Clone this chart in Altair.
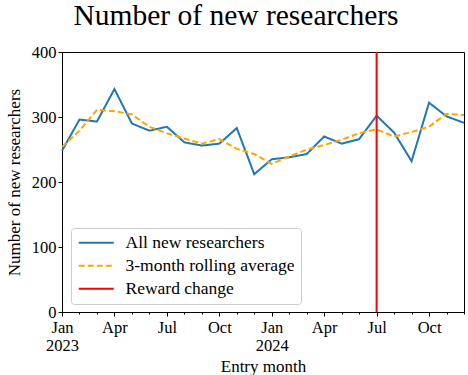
import altair as alt
import pandas as pd

# Month index 0 = Jan 2023 ... 23 = Dec 2024
month_index = list(range(24))
all_new = [248, 296, 293, 343, 290, 279, 285, 261, 256, 259, 283, 212,
           235, 238, 243, 270, 259, 266, 302, 276, 232, 322, 301, 291]
rolling = [254, 279, 311, 309, 304, 285, 275, 267, 259, 266, 251, 243,
           228, 239, 250, 257, 265, 275, 281, 270, 277, 285, 305, 303]
reward_change_month = [18]
series_names = ["All new researchers", "3-month rolling average", "Reward change"]
series_colors = ["#1f77b4", "orange", "red"]
# tick labels for each month index ('' = minor tick without label)
tick_labels = [["Jan", "2023"], "", "", "Apr", "", "", "Jul", "", "", "Oct", "", "",
               ["Jan", "2024"], "", "", "Apr", "", "", "Jul", "", "", "Oct", "", ""]

df_lines = pd.DataFrame({
    "m": month_index * 2,
    "value": all_new + rolling,
    "series": [series_names[0]] * 24 + [series_names[1]] * 24,
})
df_rule = pd.DataFrame({"m": reward_change_month, "series": [series_names[2]]})

FONT = "Liberation Serif"


def js(v):
    if isinstance(v, list):
        return "[" + ",".join(js(x) for x in v) + "]"
    return "'" + v + "'"


label_expr = f"{js(tick_labels)}[round(datum.value)]"

x_enc = alt.X(
    "m:Q",
    scale=alt.Scale(domain=[0, 23], nice=False, zero=False),
    axis=alt.Axis(
        values=month_index,
        labelExpr=label_expr,
        title="Entry month",
        tickSize={"condition": {"test": "round(datum.value) % 3 === 0", "value": 4}, "value": 2},
        labelPadding=3,
        labelFlush=False,
        labelOverlap=False,
        labelLineHeight=18,
        titlePadding=5,
    ),
)
y_enc = alt.Y(
    "value:Q",
    scale=alt.Scale(domain=[0, 400], nice=False),
    axis=alt.Axis(values=[0, 100, 200, 300, 400], title="Number of new researchers",
                  tickSize=4, labelPadding=2, titlePadding=8),
)
color_enc = alt.Color(
    "series:N",
    scale=alt.Scale(domain=series_names, range=series_colors),
    legend=alt.Legend(title=None),
)
dash_enc = alt.StrokeDash(
    "series:N",
    scale=alt.Scale(domain=series_names, range=[[1, 0], [6, 3], [1, 0]]),
    legend=alt.Legend(title=None),
)

lines = alt.Chart(df_lines).mark_line(strokeWidth=2).encode(
    x=x_enc, y=y_enc, color=color_enc, strokeDash=dash_enc
)
rule = alt.Chart(df_rule).mark_rule(strokeWidth=2).encode(
    x=x_enc, color=color_enc, strokeDash=dash_enc
)

chart = (
    alt.layer(lines, rule)
    .properties(
        width=402, height=260,
        title=alt.TitleParams("Number of new researchers", font=FONT, fontSize=29.5,
                              fontWeight="normal", color="black", offset=13,
                              anchor="middle", dx=-27),
        autosize=alt.AutoSizeParams(type="none"),
        padding={"left": 62, "top": 52, "right": 4, "bottom": 63},
    )
    .configure_view(stroke="black", strokeWidth=1)
    .configure_axis(
        labelFont=FONT, titleFont=FONT, labelFontSize=16.5, titleFontSize=17,
        titleFontWeight="normal", labelColor="black", titleColor="black",
        domainColor="black", tickColor="black", grid=False,
    )
    .configure_legend(
        orient="none", legendX=9, legendY=176,
        fillColor="white", strokeColor="#cccccc", cornerRadius=3, padding=6,
        labelFont=FONT, labelFontSize=17.5, labelColor="black", labelLimit=400,
        symbolType="M-2.5,0H2.5", symbolSize=196, symbolStrokeWidth=2,
        symbolOffset=10.5, labelOffset=20.5, rowPadding=4,
    )
)

chart.save("out.html", embed_options={"renderer": "svg", "actions": False})
